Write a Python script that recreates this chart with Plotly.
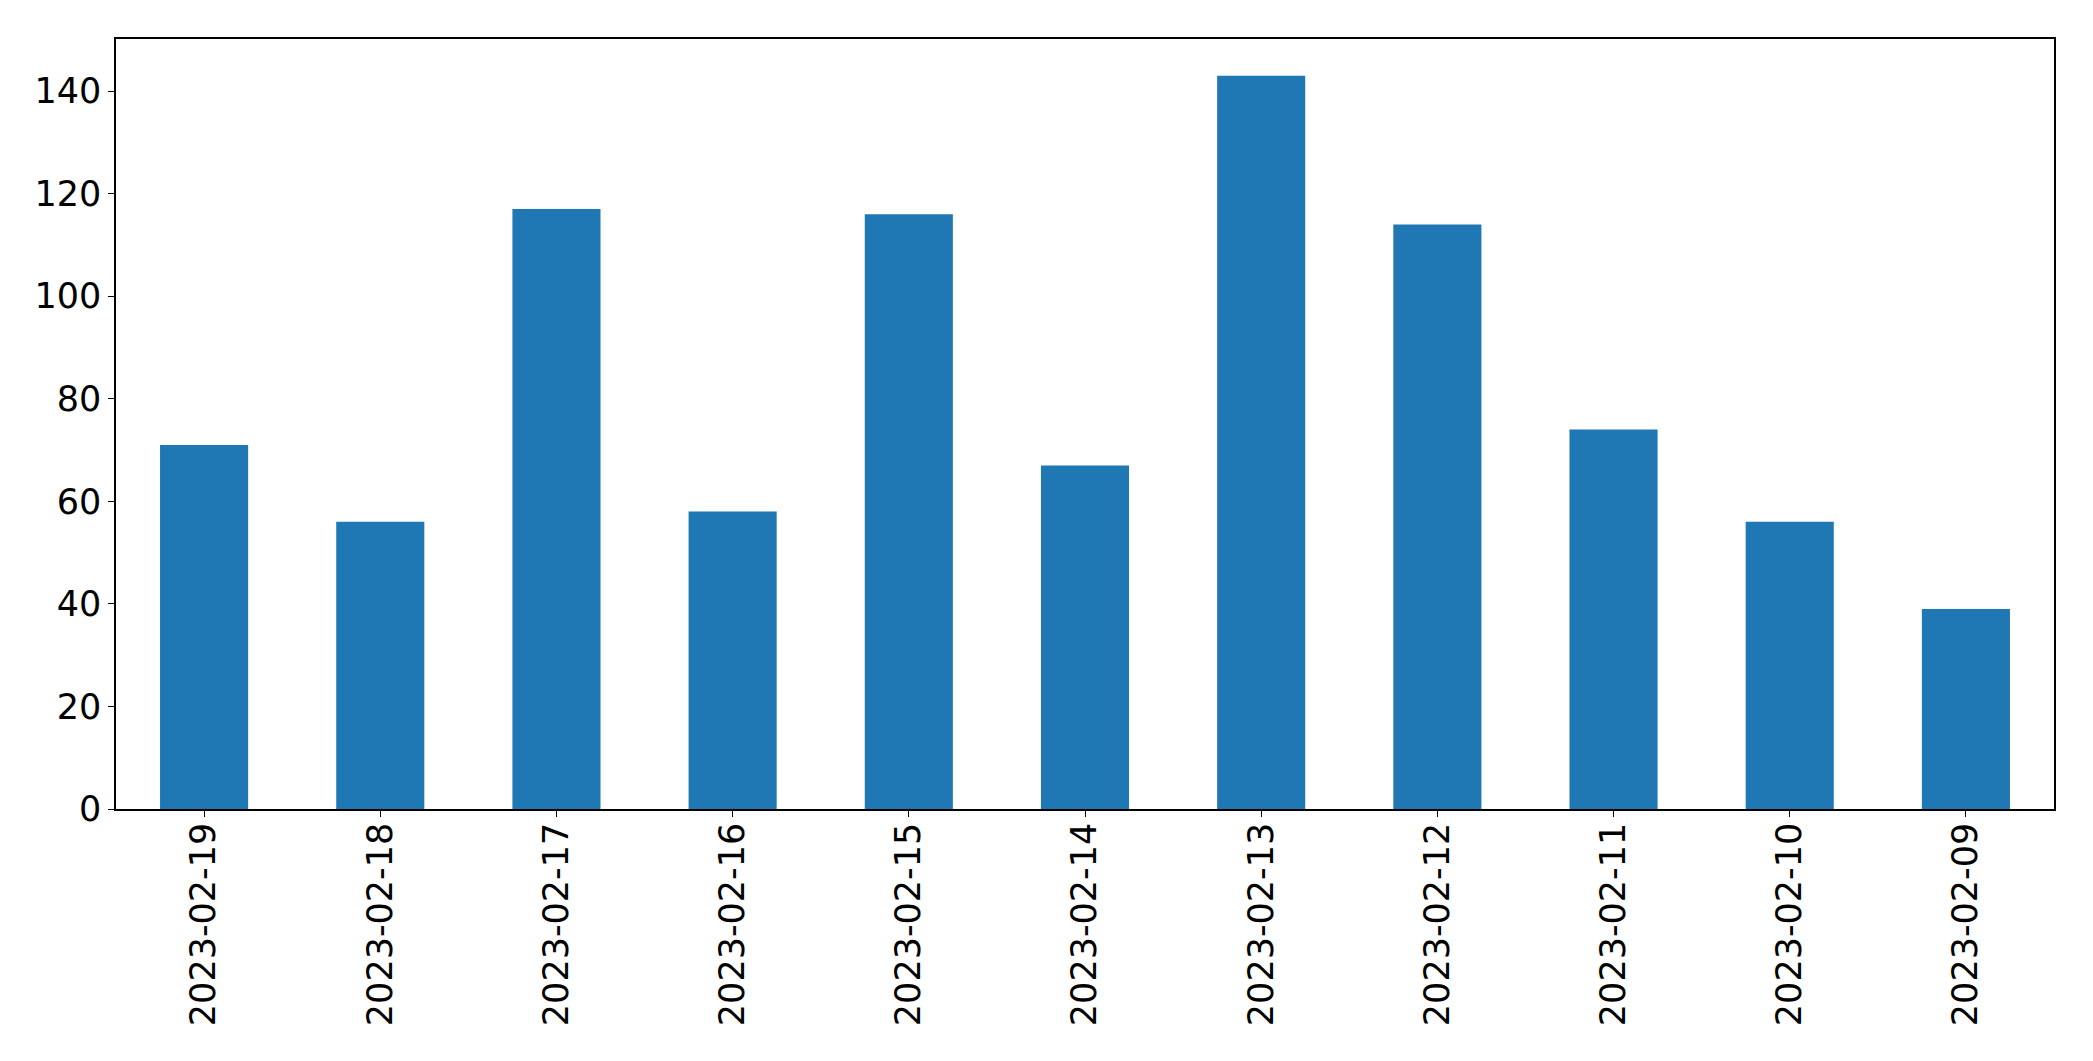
import plotly.graph_objects as go

dates = ["2023-02-19", "2023-02-18", "2023-02-17", "2023-02-16", "2023-02-15",
         "2023-02-14", "2023-02-13", "2023-02-12", "2023-02-11", "2023-02-10", "2023-02-09"]
counts = [71, 56, 117, 58, 116, 67, 143, 114, 74, 56, 39]
y_ticks = [0, 20, 40, 60, 80, 100, 120, 140]

fig = go.Figure(go.Bar(x=dates, y=counts, width=0.5, marker_color="#1f77b4",
                       marker_line_width=0))

fig.update_layout(
    width=2093, height=1061,
    margin=dict(l=108, r=47, t=31, b=260),
    plot_bgcolor="white", paper_bgcolor="white",
    font=dict(family="DejaVu Sans", size=35, color="black"),
    showlegend=False,
)
fig.update_xaxes(type="category", range=[-0.5, 10.5], tickangle=-90,
                 showline=True, linecolor="black", linewidth=1.5, mirror=True,
                 ticks="outside", ticklen=6, tickwidth=1.3, tickcolor="black",
                 ticklabelstandoff=-8,
                 showgrid=False, zeroline=False)
fig.update_yaxes(range=[0, 150.15], tickvals=y_ticks,
                 showline=True, linecolor="black", linewidth=1.5, mirror=True,
                 ticks="outside", ticklen=6, tickwidth=1.3, tickcolor="black",
                 showgrid=False, zeroline=False)

fig.write_html("out.html")
